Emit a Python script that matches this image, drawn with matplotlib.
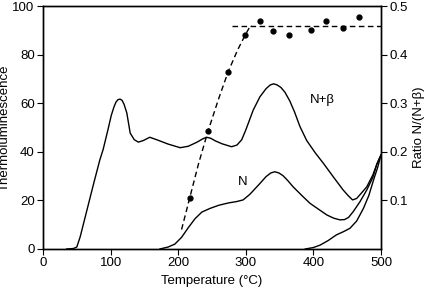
import numpy as np
import matplotlib
matplotlib.use("Agg")
import matplotlib.pyplot as plt

plt.rcParams['font.family'] = ['Liberation Sans', 'DejaVu Sans']
plt.rcParams['font.size'] = 9.5

# glow curves (temperature in C, intensity)
t_nb = [35, 45, 50, 55, 65, 75, 84, 89, 96, 101, 105, 108, 111, 114, 117, 120,
        124, 129, 135, 141, 148, 158, 170, 185, 203, 215, 228, 236, 242, 248,
        255, 265, 279, 287, 294, 300, 311, 321, 330, 336, 341, 346, 352, 358,
        365, 372, 380, 390, 403, 415, 430, 444, 452, 458, 464, 471, 479, 488,
        494, 500]
y_nb = [0, 0.2, 0.8, 5, 16, 27, 36.6, 41, 49, 55, 58.5, 60.5, 61.5, 61.7, 61.2,
        59.5, 56, 47.7, 45, 44, 44.6, 46, 44.8, 43.2, 41.7, 42.3, 44, 45.3, 46,
        45.6, 44.5, 43.3, 42.1, 42.8, 45, 49, 57.2, 62.7, 66, 67.5, 68, 67.6,
        66.5, 64.5, 61, 56.5, 50.5, 44.7, 39.5, 35.2, 29.5, 24.3, 21.8, 20.2,
        20.8, 23, 25.6, 30.5, 35, 38.7]

t_n = [173, 185, 195, 205, 215, 225, 235, 247, 260, 275, 286, 296, 306, 321,
       330, 337, 343, 349, 355, 362, 370, 383, 395, 408, 420, 430, 439, 446,
       452, 459, 469, 479, 488, 494, 500]
y_n = [0, 0.8, 2, 4.8, 8.8, 12.5, 15.2, 16.7, 18, 19, 19.5, 20.2, 22.5, 27,
       29.8, 31.3, 31.8, 31.3, 30.2, 28.2, 25.6, 22, 18.8, 16.3, 14, 12.7, 12,
       12.1, 13, 15.4, 19.5, 24.3, 29.5, 35, 38.7]

t_b = [388, 400, 410, 422, 434, 445, 454, 464, 474, 482, 489, 495, 500]
y_b = [0, 0.6, 1.6, 3.5, 5.8, 7.2, 8.5, 11.5, 16.7, 22, 28.4, 33.5, 38.7]

# ratio N/(N+beta)
t_ratio = [217, 244, 274, 299, 321, 340, 364, 396, 419, 444, 467]
ratio = [0.105, 0.242, 0.365, 0.44, 0.47, 0.449, 0.44, 0.451, 0.47, 0.454, 0.477]

t_fit = [205, 217, 230, 244, 260, 274, 288, 299, 305, 309]
r_fit = [0.04, 0.105, 0.175, 0.242, 0.31, 0.365, 0.41, 0.44, 0.455, 0.46]
t_plateau = [279, 500]
r_plateau = [0.46, 0.46]

fig = plt.figure(figsize=(4.3, 2.9), dpi=100)
ax = fig.add_axes([0.1, 0.1414, 0.786, 0.8376])

ax.plot(t_nb, y_nb, color='black', lw=1.0)
ax.plot(t_n, y_n, color='black', lw=1.0)
ax.plot(t_b, y_b, color='black', lw=1.0)

ax.set_xlim(0, 500)
ax.set_ylim(0, 100)
ax.set_xticks([0, 100, 200, 300, 400, 500])
ax.set_yticks([0, 20, 40, 60, 80, 100])
ax.set_xlabel('Temperature (\u00b0C)', labelpad=4)
ax.set_ylabel('Thermoluminescence', labelpad=1)
ax.tick_params(direction='out', length=4, width=0.8, pad=2)

ax.text(413, 61.5, 'N+\u03b2', ha='center', va='center')
ax.text(296, 27.7, 'N', ha='center', va='center')

ax2 = ax.twinx()
ax2.plot(t_fit, r_fit, color='black', lw=1.0, dashes=(4, 2.5))
ax2.plot(t_plateau, r_plateau, color='black', lw=1.0, dashes=(4, 2.5))
ax2.plot(t_ratio, ratio, 'o', color='black', ms=3.5)
ax2.set_ylim(0, 0.5)
ax2.set_yticks([0.1, 0.2, 0.3, 0.4, 0.5])
ax2.set_ylabel('Ratio N/(N+\u03b2)', labelpad=4)
ax2.tick_params(direction='out', length=4, width=0.8, pad=2)

for a in (ax, ax2):
    for s in a.spines.values():
        s.set_linewidth(1.0)

fig.savefig('out.png', dpi=100)
